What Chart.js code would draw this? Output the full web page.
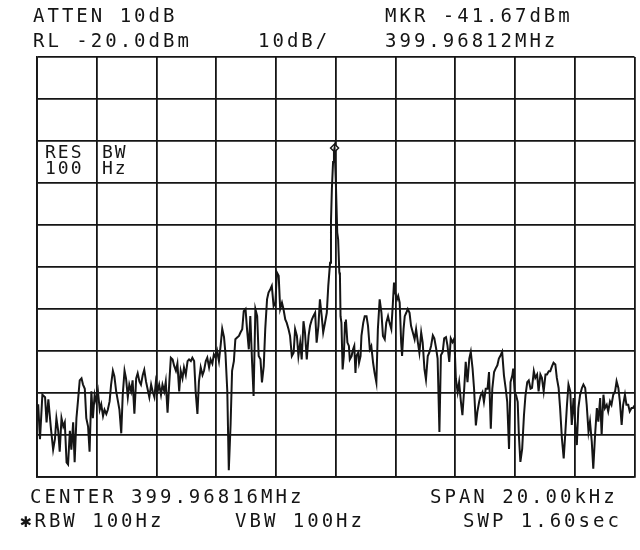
<!DOCTYPE html>
<html>
<head>
<meta charset="utf-8">
<script src="https://cdn.jsdelivr.net/npm/chart.js@4.4.1/dist/chart.umd.min.js"></script>
<style>
  html, body { margin: 0; padding: 0; background: #fff; }
  #wrap { width: 640px; height: 550px; position: relative; }
</style>
</head>
<body>
<div id="wrap"><canvas id="c" width="640" height="550"></canvas></div>
<script>
// Frequency offset from center (kHz)
const freqKHz = [
  -10.00,-9.96,-9.90,-9.82,-9.73,-9.68,-9.62,-9.54,-9.46,-9.40,-9.35,-9.29,-9.24,-9.18,-9.12,-9.07,-9.01,-8.96,-8.90,-8.85,
  -8.79,-8.74,-8.68,-8.63,-8.57,-8.51,-8.46,-8.40,-8.35,-8.29,-8.24,-8.18,-8.13,-8.07,-8.02,-7.96,-7.90,-7.85,-7.79,-7.74,
  -7.68,-7.63,-7.57,-7.52,-7.46,-7.41,-7.35,-7.29,-7.24,-7.18,-7.13,-7.07,-7.02,-6.96,-6.91,-6.85,-6.80,
  -6.74,-6.68,-6.63,-6.57,-6.52,-6.46,-6.41,-6.35,-6.30,-6.24,-6.18,-6.13,-6.07,-6.02,-5.96,-5.91,-5.85,-5.80,-5.74,-5.69,
  -5.63,-5.57,-5.52,-5.46,-5.41,-5.35,-5.30,-5.24,-5.19,-5.13,-5.08,-5.02,-4.96,-4.91,-4.85,-4.80,-4.74,-4.69,-4.63,-4.58,
  -4.52,-4.46,-4.41,-4.35,-4.30,-4.24,-4.19,-4.13,-4.08,-4.02,-3.97,-3.91,-3.85,-3.80,-3.74,-3.69,-3.63,-3.58,-3.52,-3.47,
  -3.41,-3.36,-3.30,-3.24,-3.19,-3.13,-3.08,-3.02,-2.97,-2.91,-2.86,-2.80,-2.75,-2.69,-2.63,-2.58,-2.52,-2.47,-2.41,-2.36,
  -2.30,-2.25,-2.19,-2.14,-2.08,-2.02,-1.97,-1.91,-1.86,-1.80,-1.75,-1.69,-1.64,-1.58,-1.53,-1.47,-1.41,-1.36,-1.30,-1.25,
  -1.19,-1.14,-1.08,-1.03,-0.97,-0.91,-0.86,-0.80,-0.75,-0.69,-0.64,-0.58,-0.53,-0.47,-0.42,-0.36,-0.30,-0.25,-0.19,-0.16,
  -0.13,-0.09,-0.06,-0.04,0.00,0.05,0.08,0.12,0.14,0.16,0.19,0.23,0.27,0.31,0.34,0.36,0.39,0.44,0.47,0.53,
  0.58,0.62,0.66,0.69,0.75,0.78,0.83,0.86,0.92,0.97,1.03,1.08,1.14,1.19,1.25,1.30,1.36,1.41,1.47,1.53,
  1.58,1.64,1.69,1.75,1.80,1.86,1.91,1.95,1.99,2.05,2.09,2.14,2.19,2.22,2.27,2.31,2.36,2.41,2.47,2.52,
  2.58,2.64,2.69,2.75,2.80,2.86,2.91,2.97,3.02,3.08,3.13,3.19,
  3.25,3.30,3.36,3.41,3.47,3.52,3.58,3.63,3.69,3.74,3.80,3.85,3.91,3.97,4.02,4.08,4.13,4.19,4.24,4.30,
  4.35,4.41,4.47,4.52,4.58,4.63,4.69,4.74,4.80,4.85,4.91,4.96,5.02,5.08,5.13,5.19,5.24,5.30,5.35,5.41,
  5.46,5.52,5.57,5.63,5.69,5.74,5.80,5.85,5.91,5.94,5.99,6.04,6.09,6.13,6.18,6.24,6.30,6.35,6.41,6.46,6.52,
  6.57,6.63,6.68,6.74,6.79,6.85,6.90,6.96,7.02,7.07,7.13,7.18,7.24,7.29,7.35,7.40,7.46,7.51,7.57,7.63,
  7.68,7.74,7.79,7.85,7.90,7.96,8.01,8.07,8.12,8.18,8.24,8.29,8.35,8.40,8.46,8.51,8.57,8.62,8.68,8.74,
  8.79,8.85,8.90,8.96,9.01,9.07,9.12,9.18,9.23,9.29,9.35,9.40,9.46,9.51,9.57,9.62,9.68,9.73,9.79,9.84,
  9.90,9.95,10.00
];
// Measured level (dBm)
const levelDBm = [
  -106.5,-102.7,-111,-100.4,-101,-107,-101.5,-108,-113.5,-111,-106,-109,-114,-106,-108,-107,-116.5,-117,-109,-113.5,
  -107,-116.5,-106,-102,-97,-96.5,-98,-99,-106,-108,-114,-99.6,-106,-100.4,-102,-99.6,-104,-102.7,-105.5,-104,
  -105,-104,-102,-98,-94.7,-96,-99.6,-102,-104,-109.6,-100.4,-94.7,-96.5,-101,-98,-99.6,-97,
  -104.9,-96.5,-95.3,-97.3,-98,-95.7,-94.5,-97.3,-99,-101,-98,-99.6,-101,-97.3,-99.6,-98,-100.4,-98,-99.6,-97.3,
  -104.7,-97.3,-91.6,-92,-93.5,-94.7,-93,-99.6,-94.7,-96.5,-93.9,-95.7,-92.4,-92,-92.4,-91.6,-92.4,-99.6,-105,-97.3,
  -93.9,-95.7,-94.7,-92.4,-91.6,-93.9,-92,-93,-90.8,-91.6,-90,-92.4,-88.4,-84.7,-86.7,-90.8,-99.6,-118.4,-107.5,-94.7,
  -92.4,-87.2,-86.8,-86.4,-85.6,-84.8,-80.5,-80,-84.8,-89.6,-81.7,-92.8,-100.7,-80,-81.7,-91.2,-92,-97.5,-93.6,-84.8,
  -77.7,-76.1,-75.3,-74.5,-79.3,-78.5,-71.3,-72.1,-80,-78.5,-80,-82.5,-83.3,-84.8,-86.4,-91.2,-90.4,-84.8,-86.4,-91.2,
  -88,-92,-82.9,-85.6,-92,-86.4,-84,-82.5,-81.7,-80.9,-88,-84,-77.7,-81.7,-85.6,-83.3,-80.9,-74.5,-69,-59.4,
  -51.5,-45,-42.5,-41.67,-49,-61.8,-63.4,-71.3,-72,-81.7,-83.3,-94.4,-91.2,-83.3,-82.5,-84.8,-88,-88.8,-92,-91.2,
  -89.6,-88.8,-95.2,-91.2,-90.4,-92.8,-91.2,-86.4,-83.3,-81.7,-81.7,-84,-89.6,-88.8,-92.8,-95.2,-97.5,-84.8,-77.7,-80.9,
  -86.4,-87.2,-83.3,-81.7,-83.3,-84.8,-78.9,-73.7,-76.1,-77.7,-76.9,-78.5,-88,-91.2,-84.8,-81.7,-80.9,-80,-80.9,-84,
  -85.6,-87.2,-84.8,-88,-90.4,-85.6,-88,-94.4,-96.8,-91.2,-90.4,-88.8,
  -86.3,-87,-89.4,-91.8,-109.3,-91,-90.2,-87,-86.7,-88.7,-92.6,-87,-87.9,-87,-96.6,-99.8,-97.4,-102.1,-105.3,-99,
  -92.6,-97.4,-91.8,-90.2,-94.2,-99,-107.7,-104.5,-102.1,-100.6,-99.8,-102.1,-99,-99,-95,-108.5,-99,-95,-94.2,-93.4,
  -91.8,-91,-90.2,-95.8,-99,-102.1,-113.3,-97.4,-95.8,-94.2,-99.8,-100.6,-102.1,-110.1,-116.4,-113.3,-105.3,-100.6,-97.4,-97,-99,
  -98.8,-94.8,-96.4,-95.6,-99.6,-95.6,-96.4,-99.6,-95.6,-95.6,-94.8,-94.8,-93.6,-92.8,-93.2,-96.4,-98.8,-103.6,-110.8,-115.6,
  -110,-102.8,-98,-99.6,-107.6,-101.2,-106.8,-112.4,-103.6,-100.4,-98.8,-98,-98.8,-102.8,-109.2,-106.8,-111.6,-118,-110,-103.6,
  -106.8,-101.2,-110,-100.4,-103.6,-102.8,-104.4,-102,-102.8,-100.4,-99.6,-97.2,-98.8,-102,-107.6,-102.8,-100.4,-102.8,-102.8,-104.4,
  -103.6,-103.6,-103
];
const markerKHz = [-0.04];
const markerDBm = [-41.67];

const headerLeft = ["ATTEN 10dB", "RL -20.0dBm"];
const headerMid = ["10dB/"];
const headerRight = ["MKR -41.67dBm", "399.96812MHz"];
const footerLeft = ["CENTER 399.96816MHz", "✱RBW 100Hz"];
const footerMid = ["VBW 100Hz"];
const footerRight = ["SPAN 20.00kHz", "SWP 1.60sec"];
const resLabels = [["RES", "100"], ["BW", "Hz"]];

const traceData = freqKHz.map((f, i) => ({ x: f, y: levelDBm[i] }));
const markerData = markerKHz.map((f, i) => ({ x: f, y: markerDBm[i] }));

const INK = '#151515';
const FONT = '19px "DejaVu Sans Mono", "Liberation Mono", monospace';

const textPlugin = {
  id: 'saText',
  afterDraw(chart) {
    const ctx = chart.ctx;
    ctx.save();
    ctx.fillStyle = INK;
    ctx.font = FONT;
    ctx.textBaseline = 'middle';
    try { ctx.letterSpacing = '3px'; } catch (e) {}
    ctx.textAlign = 'left';
    ctx.fillText(headerLeft[0], 33, 17);
    ctx.fillText(headerLeft[1], 33, 42);
    ctx.fillText(headerMid[0], 258, 42);
    ctx.fillText(headerRight[0], 385, 17);
    ctx.fillText(headerRight[1], 385, 42);
    ctx.fillText(footerLeft[0], 30, 498);
    ctx.fillText(footerLeft[1], 20, 522);
    ctx.fillText(footerMid[0], 235, 522);
    ctx.fillText(footerRight[0], 430, 498);
    ctx.fillText(footerRight[1], 463, 522);
    // RES BW box labels
    ctx.font = '18px "DejaVu Sans Mono", "Liberation Mono", monospace';
    try { ctx.letterSpacing = '2px'; } catch (e) {}
    ctx.fillText(resLabels[0][0], 45, 153);
    ctx.fillText(resLabels[0][1], 45, 169);
    ctx.fillText(resLabels[1][0], 102, 153);
    ctx.fillText(resLabels[1][1], 102, 169);
    ctx.restore();
  }
};

new Chart(document.getElementById('c'), {
  type: 'line',
  data: {
    datasets: [
      {
        data: traceData,
        borderColor: INK,
        borderWidth: 2,
        pointRadius: 0,
        tension: 0,
        fill: false
      },
      {
        data: markerData,
        showLine: false,
        pointStyle: 'rectRot',
        pointRadius: 4,
        pointBorderWidth: 1.5,
        pointBorderColor: INK,
        pointBackgroundColor: '#fff'
      }
    ]
  },
  options: {
    responsive: false,
    animation: false,
    layout: { padding: { left: 37, right: 2, top: 57, bottom: 73 } },
    plugins: { legend: { display: false }, tooltip: { enabled: false } },
    scales: {
      x: {
        type: 'linear', min: -10, max: 10,
        ticks: { display: false, stepSize: 2 },
        grid: { color: INK, lineWidth: 1.8, drawTicks: false },
        border: { color: INK, width: 1.8 }
      },
      y: {
        type: 'linear', min: -120, max: -20,
        ticks: { display: false, stepSize: 10 },
        grid: { color: INK, lineWidth: 1.8, drawTicks: false },
        border: { color: INK, width: 1.8 }
      }
    }
  },
  plugins: [textPlugin]
});
</script>
</body>
</html>
